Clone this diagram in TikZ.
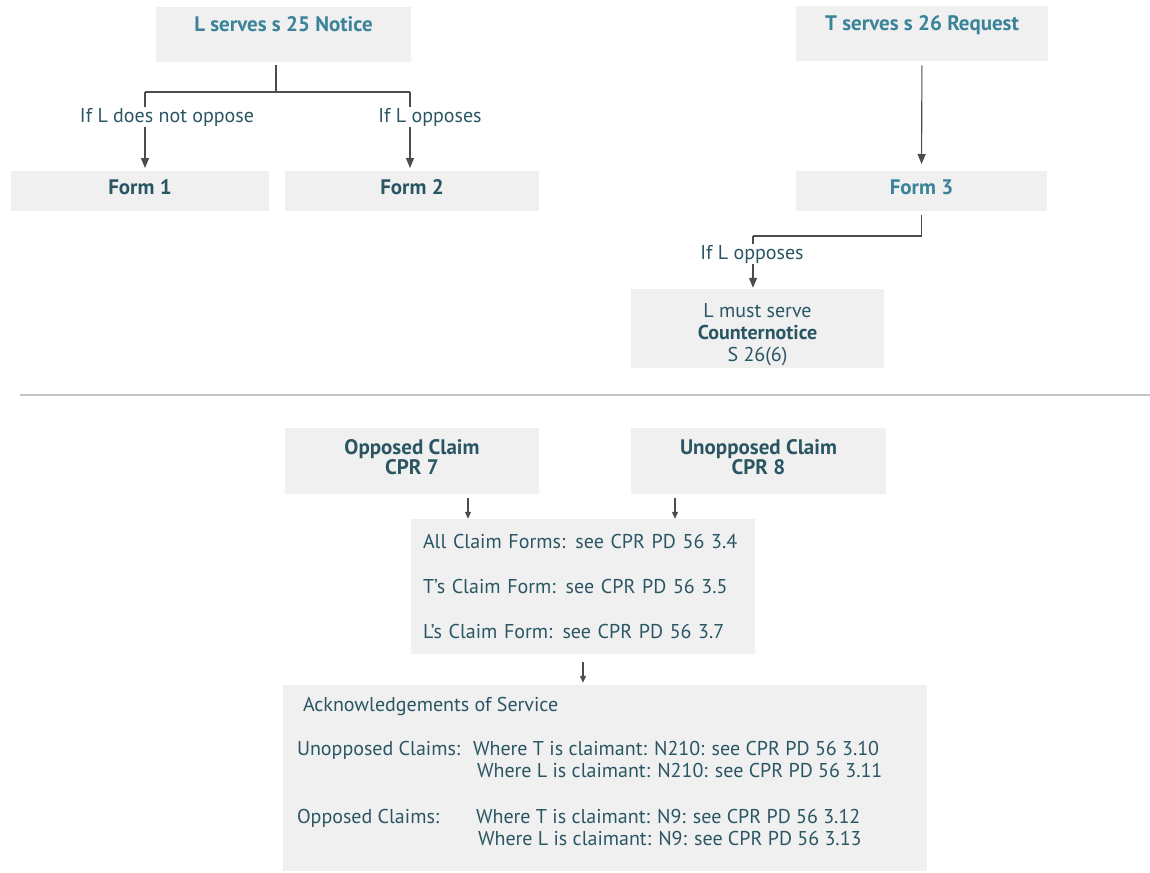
\documentclass[tikz,border=0pt]{standalone}
\usepackage{fontspec}
\setmainfont{PT Sans}
\usetikzlibrary{positioning,arrows.meta}
\definecolor{tealdark}{HTML}{2A5664}
\definecolor{teallight}{HTML}{3A8398}
\definecolor{boxgrey}{HTML}{F0F0F0}
\definecolor{sepgrey}{HTML}{C4C4C4}

\begin{document}
\begin{tikzpicture}[x=1pt,y=-1pt,
  every node/.style={font=\fontsize{20}{22}\selectfont, text=tealdark},
  greybox/.style={fill=boxgrey, inner sep=0pt, minimum height=40pt},
  topbox/.style={greybox, minimum height=0pt, text height=24pt, text depth=31pt,
    font=\fontsize{21}{22}\selectfont\bfseries, text=teallight},
  formbox/.style={greybox, minimum height=0pt, text height=23pt, text depth=17pt,
    font=\fontsize{21}{22}\selectfont\bfseries},
  claimbox/.style={greybox, minimum height=66pt, align=center,
    font=\fontsize{21}{20}\selectfont\bfseries},
  branch/.style={fill=white, inner sep=1pt},
  link/.style={draw=black!70, line width=1.1pt},
  arrow/.style={link, -{Triangle[width=8pt,length=10pt]}},
  smallarrow/.style={link, -{Triangle[width=6pt,length=7pt]}},
  sepline/.style={draw=sepgrey, line width=2pt}
]
\useasboundingbox (0,0) rectangle (1150,872);

% the s 25 side
\node[topbox, minimum width=255pt, anchor=north] (notice) at (283.5,7) {L serves s 25 Notice};
\node[formbox, minimum width=258pt, anchor=north] (form1) at (140,171) {Form 1};
\node[formbox, minimum width=254pt, anchor=north] (form2) at (412,171) {Form 2};

% the s 26 side
\node[topbox, minimum width=252pt, anchor=north] (request) at (922,6) {T serves s 26 Request};
\node[formbox, minimum width=251pt, anchor=north, text=teallight] (form3) at (921.5,171) {Form 3};
\node[greybox, minimum width=253pt, minimum height=79pt, align=center] (counter) at (757.5,328.5)
  {\rule{0pt}{27pt}L must serve\\ \textbf{Counternotice}\\ S 26(6)};

% the edges above the line
\coordinate (split) at (276,92);
\coordinate (left) at (145,92);
\coordinate (right) at (410,92);
\coordinate (bend) at (753,236);
\draw[link, shorten <=3pt] (split |- notice.south) -- (split);
\draw[link] (left) -- (right);
\draw[arrow, shorten >=3pt] (left) -- (left |- form1.north);
\draw[arrow, shorten >=3pt] (right) -- (right |- form2.north);
\draw[arrow, shorten <=4pt, shorten >=7pt] (request) -- (form3);
\draw[link, shorten <=4pt] (form3.south) -- (form3.south |- bend) -- (bend);
\draw[arrow, shorten >=1pt] (bend) -- (bend |- counter.north);

% branch labels
\node[branch] (notoppose) at (167,117) {If L does not oppose};
\node[branch] (opposeA) at (430,117) {If L opposes};
\node[branch] (opposeB) at (752,254) {If L opposes};

% separator
\draw[sepline] (20,395) -- (1150,395);

% the claims
\node[claimbox, minimum width=254pt] (opposed) at (412,461)
  {Opposed Claim\\ CPR 7\rule[-8pt]{0pt}{1pt}};
\node[claimbox, minimum width=255pt] (unopposed) at (758.5,461)
  {Unopposed Claim\\ CPR 8\rule[-8pt]{0pt}{1pt}};
\node[greybox, minimum height=135pt, text width=320pt, inner xsep=12pt, align=left] (claims) at (583,586.5)
  {All Claim Forms: see CPR PD 56 3.4\\[23pt]
   T’s Claim Form: see CPR PD 56 3.5\\[23pt]
   L’s Claim Form: see CPR PD 56 3.7};
\node[greybox, minimum width=644pt, minimum height=186pt] (ack) at (605,778) {};
\node[inner sep=0pt, align=left, below right=12pt and 14pt of ack.north west] (acktext)
  {\hspace*{6pt}Acknowledgements of Service\\[22pt]
   \makebox[176pt][l]{Unopposed Claims:}Where T is claimant: N210: see CPR PD 56 3.10\\
   \hspace*{180pt}Where L is claimant: N210: see CPR PD 56 3.11\\[24pt]
   \makebox[179pt][l]{Opposed Claims:}Where T is claimant: N9: see CPR PD 56 3.12\\
   \hspace*{181pt}Where L is claimant: N9: see CPR PD 56 3.13};

% the edges below the line
\coordinate (c1) at (468,498);
\coordinate (c2) at (675,498);
\draw[smallarrow] (c1) -- (c1 |- claims.north);
\draw[smallarrow] (c2) -- (c2 |- claims.north);
\draw[smallarrow, shorten <=8pt, shorten >=2pt] (claims.south) -- (claims.south |- ack.north);

\end{tikzpicture}
\end{document}
